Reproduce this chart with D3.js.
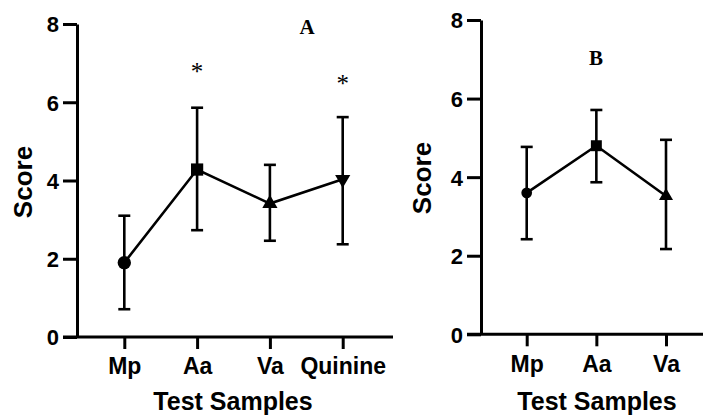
<!DOCTYPE html>
<html>
<head>
<meta charset="utf-8">
<script src="https://cdn.jsdelivr.net/npm/d3@7"></script>
<style>
  html, body { margin: 0; padding: 0; background: #fff; }
  svg { display: block; }
  .axis text { font-family: "Liberation Sans", Arial, sans-serif; font-weight: bold; fill: #000; }
</style>
</head>
<body>
<svg id="chart" width="703" height="416"></svg>
<script>
// ---- Data ----
const yTicks = [0, 2, 4, 6, 8];

const catsA = ["Mp", "Aa", "Va", "Quinine"];
const meanA = [1.9, 4.28, 3.41, 4.03];
const upperA = [3.1, 5.86, 4.40, 5.62];
const lowerA = [0.71, 2.73, 2.46, 2.37];
const symbolsA = ["circle", "square", "triangle", "triangleDown"];
const starA = ["", "*", "", "*"];
const starYA = [null, 6.85, null, 6.55];

const catsB = ["Mp", "Aa", "Va"];
const meanB = [3.6, 4.8, 3.52];
const upperB = [4.77, 5.71, 4.95];
const lowerB = [2.42, 3.87, 2.17];
const symbolsB = ["circle", "square", "triangle"];

const svg = d3.select("#chart");
const FONT = '"Liberation Sans", Arial, sans-serif';
const SERIF = '"Liberation Serif", "Times New Roman", serif';

function panel(cfg) {
  const x = d3.scalePoint().domain(cfg.cats).range(cfg.xRange);
  const y = d3.scaleLinear().domain([0, 8]).range(cfg.yRange);
  const g = svg.append("g");

  // y axis
  const ya = g.append("g").attr("class", "axis")
    .attr("transform", `translate(${cfg.axisX},0)`)
    .call(d3.axisLeft(y).tickValues(yTicks).tickFormat(d3.format("d"))
      .tickSize(14).tickSizeOuter(0).tickPadding(4));
  ya.selectAll("path, line").attr("stroke", "#000").attr("stroke-width", 3);
  ya.selectAll("text").style("font-size", "22px").attr("dy", "0.36em");

  // x axis baseline (extends left to the tick ends)
  g.append("line")
    .attr("x1", cfg.axisX - 14).attr("x2", cfg.xEnd)
    .attr("y1", y(0)).attr("y2", y(0))
    .attr("stroke", "#000").attr("stroke-width", 3);

  const xa = g.append("g").attr("class", "axis")
    .attr("transform", `translate(0,${y(0)})`)
    .call(d3.axisBottom(x).tickSize(12).tickSizeOuter(0).tickPadding(9));
  xa.select(".domain").remove();
  xa.selectAll("line").attr("stroke", "#000").attr("stroke-width", 3);
  xa.selectAll("text").style("font-size", "23px");

  // axis titles
  g.append("text")
    .attr("transform", `translate(${cfg.scoreX},${cfg.scoreY}) rotate(-90)`)
    .attr("text-anchor", "middle")
    .style("font-family", FONT).style("font-weight", "bold").style("font-size", "26px")
    .text("Score");
  g.append("text")
    .attr("x", cfg.titleX).attr("y", 410)
    .attr("text-anchor", "middle")
    .style("font-family", FONT).style("font-weight", "bold").style("font-size", "25px")
    .text("Test Samples");

  const data = cfg.cats.map((c, i) => ({
    c, m: cfg.mean[i], hi: cfg.upper[i], lo: cfg.lower[i], s: cfg.symbols[i]
  }));

  // error bars
  const eb = g.append("g").attr("stroke", "#000").attr("stroke-width", 2.6);
  data.forEach(d => {
    eb.append("line").attr("x1", x(d.c)).attr("x2", x(d.c))
      .attr("y1", y(d.lo)).attr("y2", y(d.hi));
    eb.append("line").attr("x1", x(d.c) - 6).attr("x2", x(d.c) + 6)
      .attr("y1", y(d.hi)).attr("y2", y(d.hi));
    eb.append("line").attr("x1", x(d.c) - 6).attr("x2", x(d.c) + 6)
      .attr("y1", y(d.lo)).attr("y2", y(d.lo));
  });

  // connecting line
  g.append("path").datum(data)
    .attr("fill", "none").attr("stroke", "#000").attr("stroke-width", 2.6)
    .attr("d", d3.line().x(d => x(d.c)).y(d => y(d.m)));

  // markers
  const types = {
    circle: d3.symbolCircle, square: d3.symbolSquare,
    triangle: d3.symbolTriangle, triangleDown: d3.symbolTriangle
  };
  g.selectAll(".mk").data(data).enter().append("path")
    .attr("d", d => d3.symbol().type(types[d.s]).size(cfg.sizes[d.s])())
    .attr("transform", d => `translate(${x(d.c)},${y(d.m)})` + (d.s === "triangleDown" ? " rotate(180)" : ""))
    .attr("fill", "#000");

  // panel letter
  g.append("text").attr("x", cfg.letterX).attr("y", cfg.letterY)
    .attr("text-anchor", "middle")
    .style("font-family", SERIF).style("font-weight", "bold").style("font-size", "21px")
    .text(cfg.letter);

  return { x, y, g };
}

const A = panel({
  cats: catsA, mean: meanA, upper: upperA, lower: lowerA, symbols: symbolsA,
  xRange: [124.3, 342.7], yRange: [337, 24], axisX: 77, xEnd: 393,
  scoreX: 32, scoreY: 182, titleX: 233, letter: "A", letterX: 307, letterY: 34,
  sizes: { circle: 140, square: 150, triangle: 100, triangleDown: 100 }
});
A.g.selectAll(".star").data(catsA.map((c, i) => ({ c, s: starA[i], v: starYA[i] })).filter(d => d.s))
  .enter().append("text")
  .attr("x", d => A.x(d.c)).attr("y", d => A.y(d.v) + 11)
  .attr("text-anchor", "middle")
  .style("font-family", SERIF).style("font-size", "25px")
  .text(d => d.s);

panel({
  cats: catsB, mean: meanB, upper: upperB, lower: lowerB, symbols: symbolsB,
  xRange: [526.7, 666], yRange: [334.3, 20], axisX: 481, xEnd: 703,
  scoreX: 431, scoreY: 178, titleX: 597, letter: "B", letterX: 596, letterY: 65,
  sizes: { circle: 90, square: 120, triangle: 85 }
});
</script>
</body>
</html>
